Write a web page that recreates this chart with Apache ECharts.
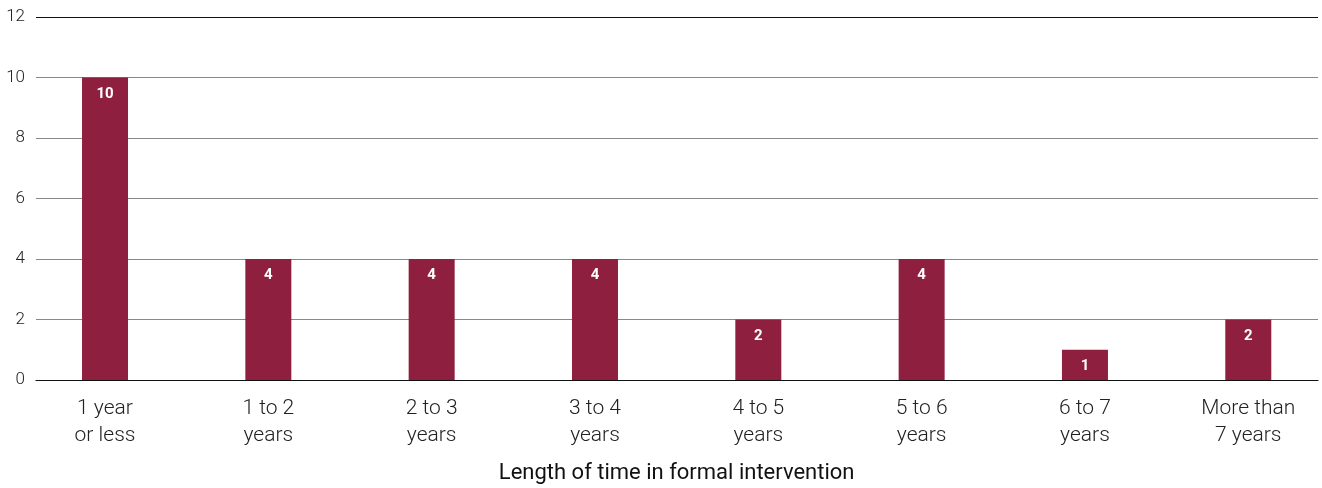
<!DOCTYPE html>
<html>
<head>
<meta charset="utf-8">
<style>
  html, body { margin: 0; padding: 0; background: #fff; }
  #chart { width: 1322px; height: 488px; }
</style>
<script src="https://cdn.jsdelivr.net/npm/echarts@6/dist/echarts.min.js"></script>
</head>
<body>
<div id="chart"></div>
<script>
// Number of people by length of time spent in formal intervention
const categories = ['1 year\nor less', '1 to 2\nyears', '2 to 3\nyears', '3 to 4\nyears',
                    '4 to 5\nyears', '5 to 6\nyears', '6 to 7\nyears', 'More than\n7 years'];
const counts = [10, 4, 4, 4, 2, 4, 1, 2];
const yTicks = [0, 2, 4, 6, 8, 10, 12];
const axisTitle = 'Length of time in formal intervention';

const FONT = 'Roboto';
const TEXT = '#222';
const BAR = '#8F1F3E';
const yMin = yTicks[0], yMax = yTicks[yTicks.length - 1], yStep = yTicks[1] - yTicks[0];

const chart = echarts.init(document.getElementById('chart'), null, { renderer: 'canvas' });
chart.setOption({
  animation: false,
  textStyle: { fontFamily: FONT },
  grid: [
    // bars and category labels
    { left: 23.35, width: 1306.6, top: 17, bottom: 108, containLabel: false, outerBoundsMode: 'none' },
    // value scale with its gridlines
    { left: 36, right: 4, top: 17, bottom: 108, containLabel: false, outerBoundsMode: 'none' }
  ],
  xAxis: [
    {
      type: 'category', gridIndex: 0, data: categories,
      axisLine: { show: false }, axisTick: { show: false },
      axisLabel: { color: TEXT, fontSize: 21, fontWeight: 300, lineHeight: 27, margin: 15, fontFamily: FONT },
      name: axisTitle, nameLocation: 'middle', nameGap: 82,
      nameTextStyle: { color: '#111', fontSize: 22, fontWeight: 400, fontFamily: FONT }
    },
    {
      type: 'category', gridIndex: 1, data: [''],
      axisLine: { show: true, lineStyle: { color: '#111', width: 1.2 } },
      axisTick: { show: false }, axisLabel: { show: false }
    }
  ],
  yAxis: [
    { type: 'value', gridIndex: 0, min: yMin, max: yMax, interval: yStep, show: false },
    {
      type: 'value', gridIndex: 1, min: yMin, max: yMax, interval: yStep,
      axisLine: { show: false }, axisTick: { show: false },
      axisLabel: { color: TEXT, fontSize: 17, fontWeight: 300, margin: 11, fontFamily: FONT },
      splitLine: { lineStyle: { color: ['#111', '#888', '#888', '#888', '#888', '#888', '#111'], width: 1.2 } }
    }
  ],
  series: [{
    type: 'bar', xAxisIndex: 0, yAxisIndex: 0,
    data: counts, barWidth: 46,
    itemStyle: { color: BAR },
    label: {
      show: true, position: 'insideTop', distance: 9,
      color: '#fff', fontSize: 15, fontWeight: 'bold', fontFamily: FONT
    }
  }]
});
</script>
</body>
</html>
